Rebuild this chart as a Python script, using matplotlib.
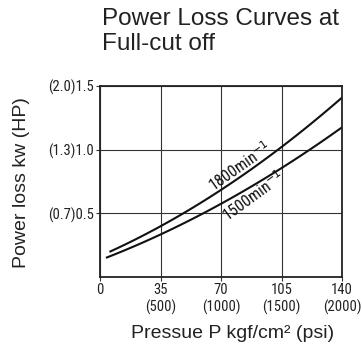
import matplotlib.pyplot as plt
import numpy as np

# pressure (kgf/cm2) and power loss (kW)
p_1800 = [6, 34, 47, 70, 104, 140]
kw_1800 = [0.196, 0.393, 0.50, 0.683, 1.0, 1.414]
p_1500 = [4, 34, 58, 70, 120, 140]
kw_1500 = [0.149, 0.338, 0.50, 0.55, 1.0, 1.17]

xticks = [0, 35, 70, 105, 140]
xlabels = ['0', '35\n(500)', '70\n(1000)', '105\n(1500)', '140\n(2000)']
yticks = [0.5, 1.0, 1.5]
ylabels = ['(0.7)0.5', '(1.3)1.0', '(2.0)1.5']

narrow = ['Liberation Sans Narrow', 'DejaVu Sans Condensed', 'Roboto Condensed', 'Liberation Sans']

fig = plt.figure(figsize=(3.62, 3.48), dpi=100)
ax = fig.add_axes([100 / 362, 1 - 277 / 348, 242 / 362, 191 / 348])

for p, kw in [(p_1800, kw_1800), (p_1500, kw_1500)]:
    c = np.polyfit(p, kw, 2)
    xs = np.linspace(p[0], p[-1], 100)
    ax.plot(xs, np.polyval(c, xs), color='#111111', lw=1.5)

ax.set_xlim(0, 140)
ax.set_ylim(0, 1.5)
ax.set_xticks(xticks)
ax.set_xticklabels(xlabels, family=narrow, fontsize=10.5, color='#222222')
ax.set_yticks(yticks)
ax.set_yticklabels(ylabels, family=narrow, fontsize=10.5, color='#222222')
ax.tick_params(length=3, color='#333333', pad=1.5)
ax.grid(True, color='#333333', lw=0.8)
for s in ax.spines.values():
    s.set_color('#222222')
    s.set_linewidth(1.3)

ax.text(81, 0.87, '1800min$^{-1}$', rotation=35, ha='center', va='center',
        family=narrow, fontsize=11.5, color='#111111')
ax.text(89, 0.64, '1500min$^{-1}$', rotation=36, ha='center', va='center',
        family=narrow, fontsize=11.5, color='#111111')

fig.text(102 / 362, 1 - 8 / 348, 'Power Loss Curves at\nFull-cut off', ha='left', va='top',
         family='Liberation Sans', fontsize=17.5, color='#222222', linespacing=1.15)
fig.text(22 / 362, 1 - 183 / 348, 'Power loss kw (HP)', rotation=90, ha='center', va='center',
         family='Liberation Sans', fontsize=14, color='#222222')
fig.text(233 / 362, 1 - 333 / 348, 'Pressue P kgf/cm\u00b2 (psi)', ha='center', va='center',
         family='Liberation Sans', fontsize=14, color='#222222')

fig.savefig('out.png', dpi=100)
